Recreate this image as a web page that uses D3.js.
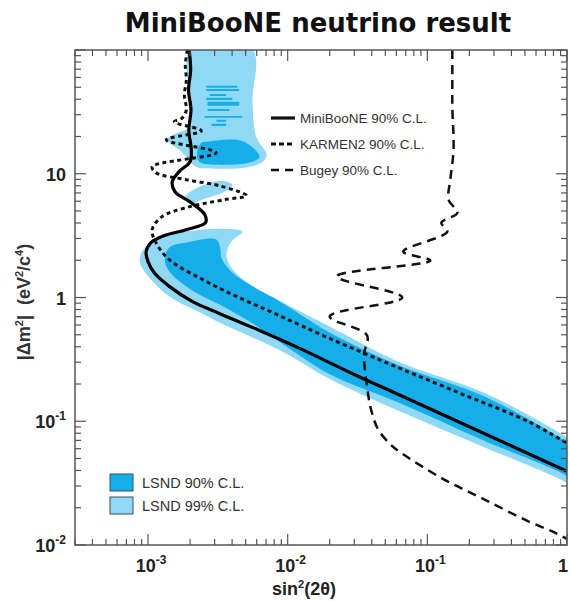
<!DOCTYPE html>
<html><head><meta charset="utf-8">
<script src="https://cdn.jsdelivr.net/npm/d3@7"></script>
<style>
body{margin:0;background:#fff;}
svg{display:block;font-family:"Liberation Sans",Arial,Helvetica,sans-serif;}
</style>
</head><body>
<svg id="chart" width="570" height="601"></svg>
<script>
// ---------------- data (x = sin^2(2θ), y = |Δm²| in eV²/c⁴) ----------------
const title = "MiniBooNE neutrino result";
const xMajor = [1e-3, 1e-2, 1e-1, 1];
const xTickLabels = [["10","-3"],["10","-2"],["10","-1"],["1",""]];
const yMajor = [1e-2, 1e-1, 1, 10];
const yTickLabels = [["10","-2"],["10","-1"],["1",""],["10",""]];

const miniboone = [[1.97e-3,100],[2.02e-3,69],[1.95e-3,47.6],[2.03e-3,32.8],[1.96e-3,22.6],[2.04e-3,15.6],
  [2.0e-3,12.5],[1.67e-3,10.4],[1.49e-3,8.61],[1.56e-3,7.16],[2.04e-3,5.84],[2.55e-3,4.67],[2.58e-3,4.02],
  [1.88e-3,3.53],[1.30e-3,3.16],[1.05e-3,2.78],[0.97e-3,2.35],[1.0e-3,1.95],[1.12e-3,1.56],[1.42e-3,1.23],[2.07e-3,0.929],
  [3.24e-3,0.743],[6.29e-3,0.542],[1.22e-2,0.388],[2.79e-2,0.248],[6.39e-2,0.162],[0.253,0.080],[1.0,0.0395]];

const karmen2 = [[1.91e-3,100],[1.85e-3,75.7],[1.88e-3,57.3],[1.82e-3,43.3],[1.88e-3,32.8],[1.76e-3,28.3],
  [1.54e-3,26.3],[2.41e-3,22.2],[1.35e-3,18.8],[3.08e-3,14.8],[1.07e-3,11.4],[1.14e-3,10.2],[1.88e-3,8.95],
  [3.24e-3,8.0],[5.07e-3,6.65],[3.52e-3,6.17],[1.88e-3,5.33],[1.26e-3,4.50],[1.07e-3,3.53],[1.14e-3,2.78],
  [1.42e-3,2.02],[2.45e-3,1.40],[4.30e-3,1.02],[8.34e-3,0.73],[2.0e-2,0.467],[6.39e-2,0.267],
  [0.194,0.159],[0.524,0.100],[1.0,0.0665]];

const bugey = [[0.151,100],[0.151,57.3],[0.151,34.7],[0.154,15.6],[0.146,8.95],[0.142,6.17],[0.164,4.84],
  [0.126,4.02],[0.139,3.41],[0.0672,2.35],[0.105,1.99],[0.0225,1.48],[0.0661,1.0],[0.0200,0.703],[0.0370,0.494],
  [0.0352,0.347],[0.0370,0.191],[0.0395,0.125],[0.0444,0.0861],[0.0542,0.0653],[0.0639,0.0562],[0.130,0.0341],
  [0.253,0.0235],[0.524,0.0156],[0.805,0.0127],[1.0,0.0112]];

// LSND 99% C.L. regions (light)
const lsnd99Upper = [[2.0e-3,100],[5.60e-3,100],[5.60e-3,39.5],[5.79e-3,22.6],[6.08e-3,18.8],[7.07e-3,14.2],
  [6.50e-3,12.3],[4.91e-3,11.2],[2.98e-3,11.0],[2.21e-3,11.4],[1.97e-3,13.0],[1.67e-3,15.6],[1.37e-3,18.8],
  [1.62e-3,21.4],[1.97e-3,23.5],[2.0e-3,39.5]];
const lsnd99Island = [[1.85e-3,6.53],[2.33e-3,7.85],[3.35e-3,8.79],[4.02e-3,8.15],[3.52e-3,7.16],[2.53e-3,6.28],[1.97e-3,5.73]];
const lsnd99Lower = [[4.74e-3,3.41],[3.95e-3,2.83],[3.64e-3,2.22],[3.95e-3,1.75],[4.91e-3,1.37],[6.50e-3,1.12],
  [9.84e-3,0.879],[0.02,0.584],[0.0639,0.299],[0.253,0.171],[1.0,0.0743],[1.3,0.060],[1.3,0.025],[1.0,0.0316],
  [0.253,0.0620],[0.0639,0.120],[0.02,0.220],[9.84e-3,0.350],[5.60e-3,0.476],[3.24e-3,0.629],[2.45e-3,0.743],
  [1.42e-3,1.02],[1.02e-3,1.45],[8.75e-4,1.92],[9.06e-4,2.35],[1.14e-3,2.94],[1.88e-3,3.41],[3.24e-3,3.60]];

// LSND 90% C.L. regions (dark)
const lsnd90Upper = [[2.61e-3,18.1],[4.30e-3,18.8],[5.33e-3,17.1],[6.29e-3,13.7],[5.60e-3,12.5],[3.24e-3,11.8],
  [2.33e-3,12.5],[2.25e-3,15.0],[2.41e-3,17.8]];
const lsnd90Stripes = [ // [x0, x1, yLow, yHigh]
  [2.61e-3,4.37e-3,49.5,51.4],[2.61e-3,4.51e-3,46.6,48.4],[2.75e-3,3.64e-3,42.5,44.1],[2.61e-3,4.02e-3,39.5,41.1],
  [2.66e-3,4.51e-3,35.4,38.1],[2.66e-3,3.83e-3,32.2,33.4],[2.53e-3,4.75e-3,28.3,29.3],[3.08e-3,3.64e-3,26.3,27.3],
  [2.84e-3,3.64e-3,24.3,25.3]];
const lsnd90Lower = [[1.42e-3,2.53],[1.88e-3,2.78],[3.08e-3,2.94],[3.30e-3,2.44],[3.35e-3,2.10],[4.02e-3,1.59],
  [5.60e-3,1.23],[8.34e-3,0.964],[0.02,0.522],[0.0639,0.280],[0.253,0.160],[1.0,0.0677],[1.3,0.055],[1.3,0.028],
  [1.0,0.036],[0.253,0.0700],[0.0639,0.140],[0.02,0.240],[9.84e-3,0.400],[5.60e-3,0.620],[3.24e-3,0.879],
  [2.07e-3,1.14],[1.42e-3,1.62],[1.32e-3,2.02]];

const lineLegend = ["MiniBooNE 90% C.L.", "KARMEN2 90% C.L.", "Bugey 90% C.L."];
const areaLegend = ["LSND 90% C.L.", "LSND 99% C.L."];

// ---------------- drawing ----------------
const svg = d3.select("#chart");
const L = 75, R = 567, T = 50, B = 545;
const x = d3.scaleLog().domain([3e-4, 1]).range([L, R]);
const y = d3.scaleLog().domain([1e-2, 100]).range([B, T]);

const C_DARK = "#16aeea", C_LIGHT = "#8fd9f5";

svg.append("defs").append("clipPath").attr("id","plotclip")
  .append("rect").attr("x",L).attr("y",T).attr("width",R-L).attr("height",B-T);

const g = svg.append("g").attr("clip-path","url(#plotclip)");

const area = d3.line().x(d=>x(d[0])).y(d=>y(d[1])).curve(d3.curveCatmullRomClosed.alpha(0.5));
[lsnd99Upper, lsnd99Island, lsnd99Lower].forEach(p =>
  g.append("path").attr("d", area(p)).attr("fill", C_LIGHT));
[lsnd90Upper, lsnd90Lower].forEach(p =>
  g.append("path").attr("d", area(p)).attr("fill", C_DARK));
g.selectAll("rect.stripe").data(lsnd90Stripes).join("rect").attr("class","stripe")
  .attr("x", d=>x(d[0])).attr("width", d=>x(d[1])-x(d[0]))
  .attr("y", d=>y(d[3])).attr("height", d=>y(d[2])-y(d[3]))
  .attr("rx", 1).attr("fill", C_DARK);

const line = d3.line().x(d=>x(d[0])).y(d=>y(d[1])).curve(d3.curveCatmullRom.alpha(0.5));
g.append("path").attr("d", line(bugey)).attr("fill","none").attr("stroke","#111")
  .attr("stroke-width",2.5).attr("stroke-dasharray","9,6");
g.append("path").attr("d", line(karmen2)).attr("fill","none").attr("stroke","#111")
  .attr("stroke-width",3).attr("stroke-dasharray","4,3.5");
g.append("path").attr("d", line(miniboone)).attr("fill","none").attr("stroke","#000")
  .attr("stroke-width",3.2);

// frame
svg.append("rect").attr("x",L).attr("y",T).attr("width",R-L).attr("height",B-T)
  .attr("fill","none").attr("stroke","#555").attr("stroke-width",1.5);

// ticks
const isMajor = v => Math.abs(Math.log10(v) - Math.round(Math.log10(v))) < 1e-6;
const tc = "#555";
const xt = x.ticks().filter(v => v >= 3e-4 && v <= 1);
const yt = y.ticks();
const tg = svg.append("g").attr("stroke", tc).attr("stroke-width", 1.2);
xt.forEach(v => {
  const len = isMajor(v) ? 11 : 6, px = x(v);
  tg.append("line").attr("x1",px).attr("x2",px).attr("y1",B).attr("y2",B-len);
  tg.append("line").attr("x1",px).attr("x2",px).attr("y1",T).attr("y2",T+len);
});
yt.forEach(v => {
  const len = isMajor(v) ? 11 : 6, py = y(v);
  tg.append("line").attr("x1",L).attr("x2",L+len).attr("y1",py).attr("y2",py);
  tg.append("line").attr("x1",R).attr("x2",R-len).attr("y1",py).attr("y2",py);
});

// tick labels
function powLabel(sel, lab) {
  sel.append("tspan").text(lab[0]);
  if (lab[1]) sel.append("tspan").attr("dy",-8).attr("font-size",12).text(lab[1]);
}
xMajor.forEach((v,i) => {
  const last = i === xMajor.length - 1;
  const t = svg.append("text").attr("x", last ? x(v)-4 : x(v)+3).attr("y", 572)
    .attr("text-anchor","middle").attr("font-size",18).attr("font-weight","bold").attr("fill","#222");
  powLabel(t, xTickLabels[i]);
});
yMajor.forEach((v,i) => {
  const t = svg.append("text").attr("x", 66).attr("y", y(v)+7)
    .attr("text-anchor","end").attr("font-size",18).attr("font-weight","bold").attr("fill","#222");
  powLabel(t, yTickLabels[i]);
});

// title & axis titles
svg.append("text").attr("x",318).attr("y",32).attr("text-anchor","middle")
  .attr("font-family","'DejaVu Sans',sans-serif")
  .attr("font-size",26).attr("font-weight","bold").attr("fill","#111").text(title);

const xl = svg.append("text").attr("x",304).attr("y",595).attr("text-anchor","middle")
  .attr("font-size",18).attr("font-weight","bold").attr("fill","#222");
xl.append("tspan").text("sin");
xl.append("tspan").attr("dy",-7).attr("font-size",11).text("2");
xl.append("tspan").attr("dy",7).text("(2θ)");

const yl = svg.append("text").attr("transform","translate(30,302) rotate(-90)").attr("text-anchor","middle")
  .attr("font-size",18).attr("font-weight","bold").attr("fill","#333");
yl.append("tspan").text("|Δm");
yl.append("tspan").attr("dy",-7).attr("font-size",11).text("2");
yl.append("tspan").attr("dy",7).text("|\u00a0\u00a0(eV");
yl.append("tspan").attr("dy",-7).attr("font-size",11).text("2");
yl.append("tspan").attr("dy",7).text("/c");
yl.append("tspan").attr("dy",-7).attr("font-size",11).text("4");
yl.append("tspan").attr("dy",7).text(")");

// line legend
const lstyles = [{w:3.2,d:null},{w:3,d:"5,3"},{w:2.5,d:"8,6"}];
lineLegend.forEach((s,i) => {
  const yy = 118 + i*26;
  const ln = svg.append("line").attr("x1",271).attr("x2",295).attr("y1",yy).attr("y2",yy)
    .attr("stroke","#111").attr("stroke-width",lstyles[i].w);
  if (lstyles[i].d) ln.attr("stroke-dasharray", lstyles[i].d);
  svg.append("text").attr("x",300).attr("y",yy+4.5).attr("font-size",13.5).attr("fill","#333").text(s);
});

// area legend
const acols = [C_DARK, C_LIGHT];
areaLegend.forEach((s,i) => {
  const yy = 474 + i*23;
  svg.append("rect").attr("x",110).attr("y",yy).attr("width",23).attr("height",17)
    .attr("fill",acols[i]).attr("stroke","#3a4f5e").attr("stroke-width",1);
  svg.append("text").attr("x",142).attr("y",yy+13.5).attr("font-size",14.5).attr("fill","#333").text(s);
});
</script>
</body></html>
